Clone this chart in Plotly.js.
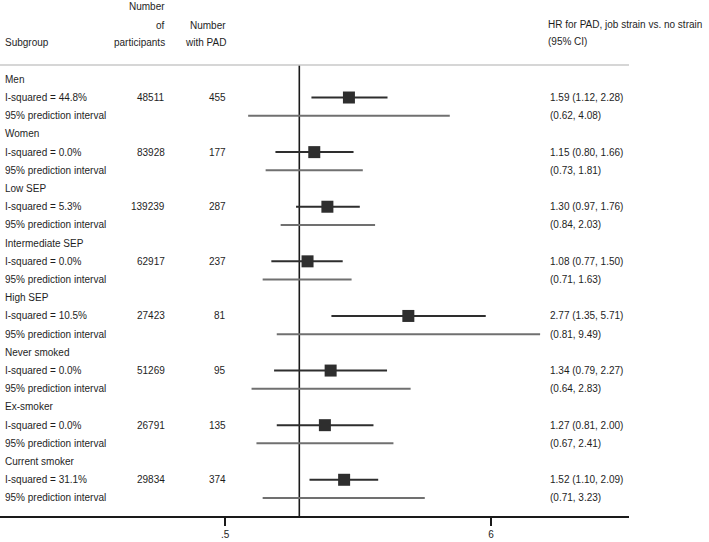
<!DOCTYPE html>
<html>
<head>
<meta charset="utf-8">
<script src="https://cdn.plot.ly/plotly-3.0.1.min.js"></script>
<style>html,body{margin:0;padding:0;background:#fff;}#chart{width:709px;height:542px;}</style>
</head>
<body>
<div id="chart"></div>
<script>
// ---- data ----
var subgroups = ["Men", "Women", "Low SEP", "Intermediate SEP", "High SEP", "Never smoked", "Ex-smoker", "Current smoker"];
var iSquared = ["44.8%", "0.0%", "5.3%", "0.0%", "10.5%", "0.0%", "0.0%", "31.1%"];
var nParticipants = ["48511", "83928", "139239", "62917", "27423", "51269", "26791", "29834"];
var nPAD = ["455", "177", "287", "237", "81", "95", "135", "374"];
var hr = [1.59, 1.15, 1.30, 1.08, 2.77, 1.34, 1.27, 1.52];
var ciLo = [1.12, 0.80, 0.97, 0.77, 1.35, 0.79, 0.81, 1.10];
var ciHi = [2.28, 1.66, 1.76, 1.50, 5.71, 2.27, 2.00, 2.09];
var piLo = [0.62, 0.73, 0.84, 0.71, 0.81, 0.64, 0.67, 0.71];
var piHi = [4.08, 1.81, 2.03, 1.63, 9.49, 2.83, 2.41, 3.23];
var tickVals = [0.5, 6];
var tickText = [".5", "6"];

// ---- layout constants ----
var FONT = "Liberation Sans, Arial, Helvetica, sans-serif";
var TXT = "#1e1e1e";
var plotW = 629;            // px width of plotting area
var topPx = 65, botPx = 516; // plotting area top/bottom (px)
function px(x) { return x / plotW; }
function py(p) { return (botPx - p) / (botPx - topPx); } // pixel y -> paper y
var yTop = -0.786, yBot = 23.99;

var ciX = [], ciY = [], piX = [], piY = [], sqX = [], sqY = [];
var ann = [];
function addText(x, y, text, anchor, yref) {
  var dx = (anchor === "right") ? 2 : -2;
  ann.push({xref: "paper", yref: yref || "y", x: px(x + dx), y: y, text: text, showarrow: false,
    xanchor: anchor || "left", yanchor: "middle", font: {family: FONT, size: 10, color: TXT}});
}
for (var i = 0; i < subgroups.length; i++) {
  var r0 = i * 3, r1 = r0 + 1, r2 = r0 + 2;
  ciX.push(ciLo[i], ciHi[i], null); ciY.push(r1, r1, null);
  piX.push(piLo[i], piHi[i], null); piY.push(r2, r2, null);
  sqX.push(hr[i]); sqY.push(r1);
  addText(5, r0, subgroups[i]);
  addText(5, r1, "I-squared = " + iSquared[i]);
  addText(5, r2, "95% prediction interval");
  addText(165, r1, nParticipants[i], "right");
  addText(226, r1, nPAD[i], "right");
  addText(550, r1, hr[i].toFixed(2) + " (" + ciLo[i].toFixed(2) + ", " + ciHi[i].toFixed(2) + ")");
  addText(550, r2, "(" + piLo[i].toFixed(2) + ", " + piHi[i].toFixed(2) + ")");
}
// headers (above the plotting area, paper coordinates)
addText(165, py(7), "Number", "right", "paper");
addText(165, py(25), "of", "right", "paper");
addText(165, py(43), "participants", "right", "paper");
addText(226, py(25), "Number", "right", "paper");
addText(226, py(43), "with PAD", "right", "paper");
addText(5, py(43), "Subgroup", "left", "paper");
addText(548, py(24), "HR for PAD, job strain vs. no strain", "left", "paper");
addText(548, py(41.5), "(95% CI)", "left", "paper");

var traces = [
  {x: [1, 1], y: [yTop, yBot], mode: "lines", line: {color: "#1a1a1a", width: 1.6}, hoverinfo: "skip", cliponaxis: false},
  {x: piX, y: piY, mode: "lines", line: {color: "#707070", width: 2}, hoverinfo: "skip"},
  {x: ciX, y: ciY, mode: "lines", line: {color: "#2e2e2e", width: 2}, hoverinfo: "skip"},
  {x: sqX, y: sqY, mode: "markers", marker: {symbol: "square", size: 12, color: "#2e2e2e"}, hoverinfo: "skip"}
];

var layout = {
  width: 709, height: 542,
  margin: {l: 0, r: 709 - plotW, t: topPx, b: 542 - botPx, pad: 0},
  paper_bgcolor: "#ffffff", plot_bgcolor: "#ffffff",
  showlegend: false,
  font: {family: FONT, size: 10, color: TXT},
  xaxis: {type: "log", range: [-1.2147, 1.338], showgrid: false, zeroline: false,
    showline: true, linecolor: "#1a1a1a", linewidth: 1.6,
    tickmode: "array", tickvals: tickVals, ticktext: tickText,
    ticks: "outside", ticklen: 8, tickwidth: 1.6, tickcolor: "#1a1a1a",
    tickfont: {family: FONT, size: 10, color: TXT}, fixedrange: true},
  yaxis: {range: [yBot, yTop], visible: false, showgrid: false, zeroline: false, fixedrange: true},
  shapes: [{type: "line", xref: "paper", yref: "paper", x0: 0, x1: 1, y0: 1, y1: 1,
    line: {color: "#c8c8c8", width: 1.5}}],
  annotations: ann
};
Plotly.newPlot("chart", traces, layout, {displayModeBar: false, staticPlot: true});
</script>
</body>
</html>
